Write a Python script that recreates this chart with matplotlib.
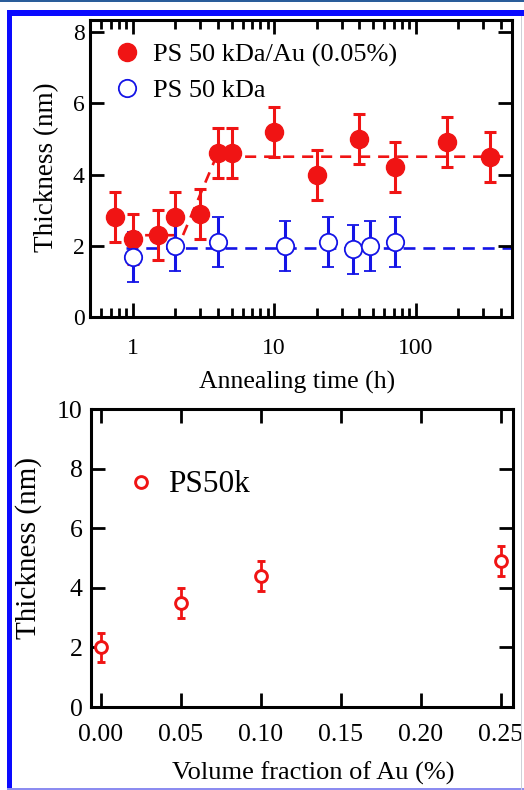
import matplotlib
matplotlib.use("Agg")
import matplotlib.pyplot as plt
from matplotlib.patches import Rectangle
from matplotlib.ticker import LogLocator, FixedLocator, NullFormatter, FixedFormatter

plt.rcParams['font.family'] = ['Liberation Serif', 'DejaVu Serif']
plt.rcParams['mathtext.fontset'] = 'stix'

# ---------------- data: top panel ----------------
au_time = [0.75, 1, 1.5, 2, 3, 4, 5, 10, 20, 40, 72, 168, 336]
au_thick = [2.8, 2.2, 2.3, 2.8, 2.9, 4.6, 4.6, 5.2, 4.0, 5.0, 4.2, 4.9, 4.5]
au_err = [0.7, 0.7, 0.7, 0.7, 0.7, 0.7, 0.7, 0.7, 0.7, 0.7, 0.7, 0.7, 0.7]

ps_time = [1, 2, 4, 12, 24, 36, 48, 72]
ps_thick = [1.7, 2.0, 2.1, 2.0, 2.1, 1.9, 2.0, 2.1]
ps_err = [0.7, 0.7, 0.7, 0.7, 0.7, 0.7, 0.7, 0.7]

au_guide_x = [0.9, 2.27, 3.9, 480]
au_guide_y = [2.3, 2.3, 4.5, 4.5]
ps_guide_x = [0.9, 480]
ps_guide_y = [1.95, 1.95]

top_xticks = [1, 10, 100]
top_xticklabels = ['1', '10', '100']
top_yticks = [0, 2, 4, 6, 8]

# ---------------- data: bottom panel ----------------
vol_frac = [0.0, 0.05, 0.10, 0.25]
vol_thick = [2.0, 3.5, 4.4, 4.9]
vol_err = [0.5, 0.5, 0.5, 0.5]
bot_xticks = [0.0, 0.05, 0.10, 0.15, 0.20, 0.25]
bot_xticklabels = ['0.00', '0.05', '0.10', '0.15', '0.20', '0.25']
bot_yticks = [0, 2, 4, 6, 8, 10]

RED = '#f01414'
BLUE = '#1414e6'

W, H = 524, 790
fig = plt.figure(figsize=(W / 100, H / 100), dpi=100)

# frame decorations
def px_rect(x0, y0, w, h, color):
    fig.patches.append(Rectangle((x0 / W, 1 - (y0 + h) / H), w / W, h / H,
                                 transform=fig.transFigure, color=color, lw=0, zorder=0))

px_rect(0, 0, W, 1.5, '#2a5d9a')
px_rect(7, 10, W - 7, 6, '#0a0aff')
px_rect(7, 10, 5, H - 10, '#0a0aff')
px_rect(7, H - 2, W - 7, 1.5, '#8c8cf0')
px_rect(520.5, 16, 1.2, H - 16, '#d0d0d8')

def style_axes(ax):
    for s in ax.spines.values():
        s.set_linewidth(2.2)
    ax.tick_params(which='both', direction='in', top=True, right=True, width=2.0)
    ax.tick_params(which='major', length=10)
    ax.tick_params(which='minor', length=6.5)

# ---------------- top panel ----------------
ax1 = fig.add_axes([90 / W, 1 - 317.3 / H, 422 / W, 297.3 / H])
style_axes(ax1)
ax1.set_xscale('log')
ax1.set_xlim(0.5, 480)
ax1.set_ylim(0, 8.33)

ax1.plot(au_guide_x, au_guide_y, color=RED, lw=1.9, ls=(0, (4.2, 3.0)), zorder=1)
ax1.plot(ps_guide_x, ps_guide_y, color=BLUE, lw=1.9, ls=(0, (4.5, 3.0)), zorder=1)

ax1.errorbar(au_time, au_thick, yerr=au_err, fmt='o', color=RED, ms=13,
             mfc=RED, mec=RED, elinewidth=2.2, capsize=4.3, capthick=2.2, zorder=3,
             label='PS 50 kDa/Au (0.05%)')
ax1.errorbar(ps_time, ps_thick, yerr=ps_err, fmt='o', color=BLUE, ms=12.5,
             mfc='white', mec=BLUE, mew=1.3, elinewidth=2.2, capsize=4.3, capthick=2.2,
             zorder=3, label='PS 50 kDa')

ax1.xaxis.set_major_locator(FixedLocator(top_xticks))
ax1.xaxis.set_major_formatter(FixedFormatter(top_xticklabels))
ax1.xaxis.set_minor_locator(LogLocator(base=10, subs=range(2, 10)))
ax1.xaxis.set_minor_formatter(NullFormatter())
ax1.set_yticks(top_yticks)
ax1.tick_params(axis='x', which='major', labelsize=17, pad=15)
ax1.tick_params(axis='y', which='major', labelsize=17, pad=4)

ax1.set_xlabel('Annealing time (h)', fontsize=18.5)
ax1.xaxis.set_label_coords(0.490, -0.2176)
ax1.xaxis.label.set_va('center')
ax1.set_ylabel('Thickness (nm)', fontsize=19.5)
ax1.yaxis.set_label_coords(-0.102, 0.5056)
ax1.yaxis.label.set_va('center')

handles, labels = ax1.get_legend_handles_labels()
handles = [h[0] for h in handles]
ax1.legend(handles, labels, loc='upper left', bbox_to_anchor=(0.045, 0.94),
           frameon=False, fontsize=19, handlelength=1.0, handletextpad=0.45,
           labelspacing=0.45, borderpad=0.2, borderaxespad=0)

# ---------------- bottom panel ----------------
ax2 = fig.add_axes([91 / W, 1 - 707 / H, 422 / W, 298 / H])
style_axes(ax2)
ax2.set_xlim(-0.006, 0.2577)
ax2.set_ylim(0, 10)
ax2.errorbar(vol_frac, vol_thick, yerr=vol_err, fmt='o', color=RED, ms=8.5,
             mfc='white', mec=RED, mew=2.1, elinewidth=2.0, capsize=3.0, capthick=2.0,
             label='PS50k', zorder=3)
ax2.set_xticks(bot_xticks)
ax2.set_xticklabels(bot_xticklabels)
ax2.set_yticks(bot_yticks)
ax2.tick_params(axis='x', which='major', labelsize=18.5, pad=12)
ax2.tick_params(axis='y', which='major', labelsize=18.5, pad=6)
ax2.tick_params(which='minor', length=0)

ax2.set_xlabel('Volume fraction of Au (%)', fontsize=19)
ax2.xaxis.set_label_coords(0.526, -0.2215)
ax2.xaxis.label.set_va('center')
ax2.set_ylabel('Thickness (nm)', fontsize=21)
ax2.yaxis.set_label_coords(-0.149, 0.5336)
ax2.yaxis.label.set_va('center')

h2, l2 = ax2.get_legend_handles_labels()
h2 = [h[0] for h in h2]
ax2.legend(h2, l2, loc='center left', bbox_to_anchor=(0.09, 0.745),
           frameon=False, fontsize=22.5, handlelength=0.8, handletextpad=0.45,
           borderpad=0, borderaxespad=0)

fig.savefig('out.png', dpi=100)
